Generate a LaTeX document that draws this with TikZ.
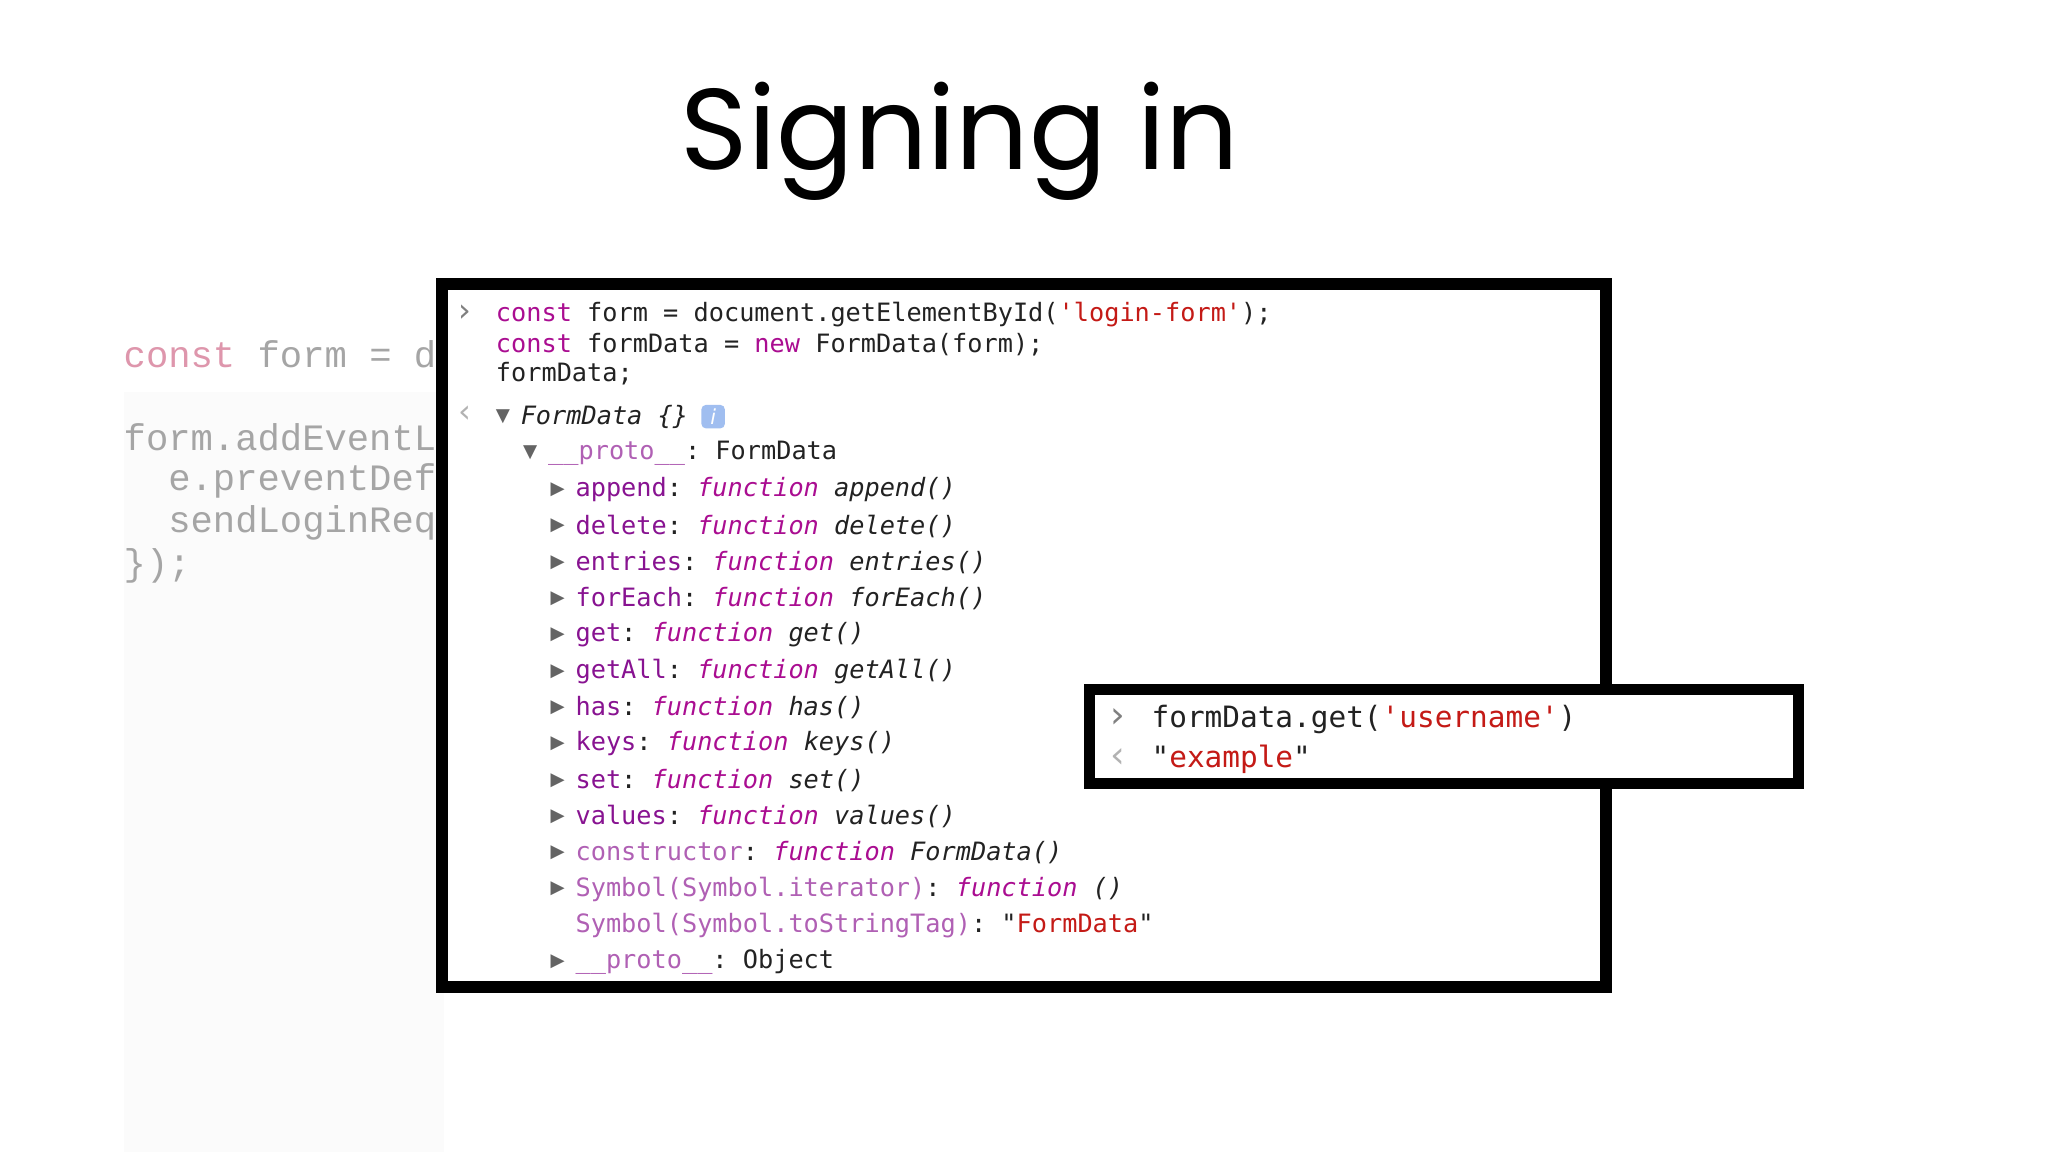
\documentclass[tikz,border=0pt]{standalone}
\usepackage{fontspec}
\setmainfont{Poppins}
\newfontfamily\cmono{DejaVu Sans Mono}
\newfontfamily\bgmono{Liberation Mono}
\newfontfamily\symf{DejaVu Sans}
\frenchspacing
\definecolor{kwc}{RGB}{170,13,145}
\definecolor{prc}{RGB}{136,19,145}
\definecolor{palec}{RGB}{176,96,180}
\definecolor{strc}{RGB}{196,26,22}
\definecolor{txc}{RGB}{34,34,34}
\definecolor{trc}{RGB}{100,100,100}
\definecolor{bgg}{RGB}{165,165,165}
\definecolor{bgp}{RGB}{222,150,172}
\definecolor{infoc}{RGB}{160,190,240}
\definecolor{faint}{RGB}{251,251,251}
\newcommand{\kwd}[1]{\textcolor{kwc}{#1}}
\newcommand{\prp}[1]{\textcolor{prc}{#1}}
\newcommand{\pal}[1]{\textcolor{palec}{#1}}
\newcommand{\strg}[1]{\textcolor{strc}{#1}}
\newcommand{\fnk}[1]{\textcolor{kwc}{\itshape function} {\itshape #1}}
\begin{document}
\begin{tikzpicture}[x=0.01cm,y=-0.01cm,
  con/.style={anchor=west,inner sep=0pt,font=\cmono\fontsize{5.5}{6}\selectfont\frenchspacing,text=txc},
  big/.style={anchor=west,inner sep=0pt,font=\cmono\fontsize{6.4}{7}\selectfont,text=txc},
  bgc/.style={anchor=west,inner sep=0pt,font=\bgmono\fontsize{8.1}{9}\selectfont,text=bgg},
  tri/.style={anchor=center,inner sep=0pt,font=\symf\fontsize{4}{4}\selectfont,text=trc},
  prompt/.style={anchor=center,inner sep=0pt,font=\symf\fontsize{7}{7}\selectfont,text=gray},
  frame/.style={draw=black,fill=white}]
\useasboundingbox (0,0) rectangle (1568,882);
\fill[white] (0,0) rectangle (1568,882);
\fill[faint] (95,300) rectangle (340,882);
% title
\node[inner sep=0pt,font=\fontsize{25}{30}\selectfont] (title) at (735,108) {Signing in};
% background code
\node[bgc] (b1) at (94,271) {\textcolor{bgp}{const} form = d};
\node[bgc] (b2) at (94,335) {form.addEventL};
\node[bgc] (b3) at (94,368) {\ \ e.preventDef};
\node[bgc] (b4) at (94,400) {\ \ sendLoginReq};
\node[bgc] (b5) at (94,433) {\});};
% main box
\draw[frame,line width=0.09cm] (338.5,217.5) rectangle (1229.5,755.5);
\node[prompt] (p1) at (356,240) {›};
\node[con] (l1) at (379,241) {\kwd{const} form = document.getElementById(\strg{'login-form'});};
\node[con] (l2) at (379,264) {\kwd{const} formData = \kwd{new} FormData(form);};
\node[con] (l3) at (379,286) {formData;};
\node[prompt,text=gray!60] (p2) at (356,317) {‹};
\node[tri] (t0) at (385,319) {▼};
\node[con] (l4) at (398,319) {\itshape FormData \{\}};
\node[fill=infoc,rounded corners=1pt,minimum width=0.18cm,minimum height=0.18cm,inner sep=0pt,text=white,font=\symf\itshape\fontsize{4.5}{5}\selectfont] (info) at (546,319) {i};
\node[tri] (t1) at (406,347) {▼};
\node[con] (l5) at (419,347) {\pal{\_\_proto\_\_}: FormData};
\foreach \i/\n/\f in {0/append/append(),1/delete/delete(),2/entries/entries(),3/forEach/forEach(),4/get/get(),5/getAll/getAll(),6/has/has(),7/keys/keys(),8/set/set(),9/values/values()}{
  \node[tri] (tr\i) at (427,375+27.8*\i) {▶};
  \node[con] (e\i) at (440,375+27.8*\i) {\prp{\n}: \fnk{\f}};
}
\node[tri] (tr10) at (427,653) {▶};
\node[con] (e10) at (440,653) {\pal{constructor}: \fnk{FormData()}};
\node[tri] (tr11) at (427,680.8) {▶};
\node[con] (e11) at (440,680.8) {\pal{Symbol(Symbol.iterator)}: \fnk{()}};
\node[con] (e12) at (440,708.6) {\pal{Symbol(Symbol.toStringTag)}: "\strg{FormData}"};
\node[tri] (tr13) at (427,736.4) {▶};
\node[con] (e13) at (440,736.4) {\pal{\_\_proto\_\_}: Object};
% small box
\draw[frame,line width=0.08cm] (834,528) rectangle (1377,600);
\node[prompt,font=\symf\fontsize{8}{8}\selectfont] (q1) at (856,550) {›};
\node[big] (s1) at (881,551) {formData.get(\strg{'username'})};
\node[prompt,font=\symf\fontsize{8}{8}\selectfont,text=gray!60] (q2) at (856,580) {‹};
\node[big] (s2) at (881,581) {"\strg{example}"};
\end{tikzpicture}
\end{document}
